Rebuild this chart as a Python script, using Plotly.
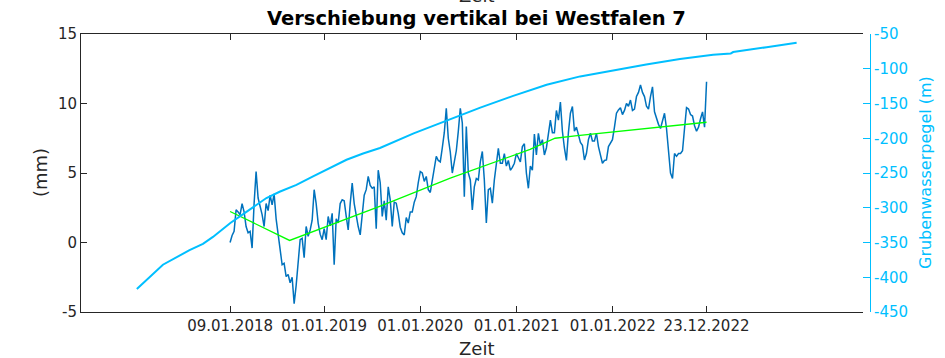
import pandas as pd
import plotly.graph_objects as go

# Vertical displacement at Westfalen 7 (mm), evenly spaced readings
START_DATE = "2018-01-09"
END_DATE = "2022-12-23"
displacement_mm = [
    0.0, 0.5, 0.8, 2.35, 2.2, 2.0, 2.8, 2.2, 1.15, 0.7,
    0.8, -0.4, 2.8, 5.1, 3.2, 2.6, 2.0, 1.15, 2.8, 2.3,
    3.4, 2.7, 3.5, 1.7, 0.6, -0.5, -1.6, -1.5, -2.45, -2.3,
    -2.9, -2.5, -4.4, -3.1, -1.6, 0.2, 0.3, -1.1, 1.15, 0.45,
    0.9, 1.6, 3.8, 2.8, 1.4, 0.6, 0.2, 1.0, 0.2, 1.87,
    1.2, 2.1, -1.6, 1.7, 1.4, 2.8, 3.07, 3.0, 1.9, 0.9,
    2.8, 4.27, 2.8, 1.9, 1.15, 0.55, 2.2, 3.4, 3.8, 4.75,
    4.1, 3.9, 4.0, 1.0, 5.2, 4.3, 1.87, 3.0, 1.6, 4.0,
    3.07, 1.15, 2.9, 2.83, 2.1, 1.1, 0.7, 0.55, 1.8, 1.4,
    2.2, 2.2, 2.9, 3.3, 4.3, 5.1, 5.0, 4.4, 4.75, 3.8,
    3.6, 4.4, 5.1, 6.2, 5.9, 5.8, 6.8, 7.9, 9.65, 7.5,
    6.5, 5.0, 5.8, 6.6, 8.0, 9.65, 8.6, 3.3, 8.35, 5.0,
    4.5, 2.35, 4.0, 4.6, 4.5, 5.8, 6.55, 4.5, 1.4, 3.8,
    3.9, 2.83, 4.5, 5.9, 6.78, 5.7, 5.7, 6.4, 5.5, 5.9,
    5.2, 5.4, 5.7, 6.4, 6.1, 5.8, 6.9, 7.1, 5.0, 3.9,
    5.5, 5.2, 7.8, 6.3, 7.86, 7.0, 7.4, 6.3, 6.8, 7.9,
    8.8, 7.9, 7.9, 9.5, 8.8, 10.1, 8.0, 6.8, 5.9, 7.9,
    9.3, 9.78, 8.0, 8.3, 7.8, 7.2, 7.0, 5.94, 6.4, 7.4,
    7.86, 7.3, 7.3, 7.86, 6.9, 6.2, 5.7, 5.9, 5.94, 6.9,
    7.2, 7.4, 8.3, 9.3, 9.54, 9.7, 9.2, 9.5, 10.0, 9.8,
    10.25, 9.5, 9.6, 10.5, 10.8, 11.33, 10.8, 10.5, 9.8, 9.6,
    10.5, 11.2, 9.4, 8.9, 8.5, 8.2, 8.7, 9.3, 8.2, 6.6,
    5.0, 4.6, 6.4, 6.2, 6.4, 6.4, 6.6, 8.2, 9.7, 9.6,
    9.2, 9.1, 8.4, 8.0, 8.3, 8.9, 9.4, 8.3, 11.57,
]

# Smoothed trend of the displacement (mm)
trend_dates = [
    "2018-01-09", "2018-08-23", "2019-07-31", "2020-04-24", "2021-02-21",
    "2021-04-18", "2021-05-27", "2021-08-11", "2021-10-14", "2021-12-03",
    "2022-07-10", "2022-12-23",
]
trend_mm = [2.23, 0.15, 2.6, 4.63, 6.7, 7.14, 7.5, 7.67, 7.8, 7.9, 8.35, 8.65]

# Mine water level (m)
pegel_dates = [
    "2017-01-20", "2017-04-29", "2017-08-08", "2017-09-28", "2017-11-05",
    "2018-01-10", "2018-03-12", "2018-05-27", "2018-07-16", "2018-09-18",
    "2018-11-20", "2019-01-23", "2019-03-27", "2019-05-29", "2019-08-01",
    "2019-12-07", "2020-04-11", "2020-08-16", "2020-12-19", "2021-04-25",
    "2021-08-30", "2022-01-02", "2022-05-08", "2022-09-13", "2023-01-17",
    "2023-03-25", "2023-04-03", "2023-08-08", "2023-11-30",
]
pegel_m = [
    -417, -382, -361, -352, -342,
    -322, -306, -286, -277, -267,
    -255, -243, -231, -222, -214,
    -193, -174, -156, -139, -123,
    -111, -102, -94, -86, -80,
    -78, -76, -69, -62.5,
]

# Axis ticks
x_tick_dates = ["2018-01-09", "2019-01-01", "2020-01-01", "2021-01-01", "2022-01-01", "2022-12-23"]
x_tick_labels = ["09.01.2018", "01.01.2019", "01.01.2020", "01.01.2021", "01.01.2022", "23.12.2022"]
y_ticks = [-5, 0, 5, 10, 15]
y2_ticks = [-450, -400, -350, -300, -250, -200, -150, -100, -50]

AX = "#262626"
CYAN = "#00BFFF"

dates = pd.date_range(START_DATE, END_DATE, periods=len(displacement_mm))

fig = go.Figure()
fig.add_trace(go.Scatter(x=dates, y=displacement_mm, mode="lines",
                         line=dict(color="#0072BD", width=1.5)))
fig.add_trace(go.Scatter(x=trend_dates, y=trend_mm, mode="lines",
                         line=dict(color="#00FF00", width=1.3)))
fig.add_trace(go.Scatter(x=pegel_dates, y=pegel_m, mode="lines", yaxis="y2",
                         line=dict(color=CYAN, width=2)))

W, H = 945, 358
L, R, T, B = 81, 75, 34, 46
plot_w = W - L - R
plot_h = H - T - B

def px(x):
    return (x - L) / plot_w

def py(y):
    return (H - B - y) / plot_h

fig.update_layout(
    width=W, height=H,
    margin=dict(l=L, r=R, t=T, b=B, pad=0),
    plot_bgcolor="white", paper_bgcolor="white",
    showlegend=False,
    font=dict(family="DejaVu Sans", size=15, color=AX),
    xaxis=dict(
        domain=[0, (863 - L) / plot_w],
        range=["2016-06-22", "2024-08-08"],
        tickvals=x_tick_dates, ticktext=x_tick_labels,
        ticks="inside", ticklen=6, tickcolor=AX, tickwidth=1,
        showline=True, linecolor=AX, linewidth=1, mirror="ticks",
        showgrid=False, zeroline=False,
        tickfont=dict(size=15, color=AX),
    ),
    yaxis=dict(
        range=[-5, 15],
        tickvals=y_ticks, ticktext=[str(v) for v in y_ticks],
        ticks="inside", ticklen=6, tickcolor=AX, tickwidth=1,
        showline=True, linecolor=AX, linewidth=1,
        showgrid=False, zeroline=False,
        tickfont=dict(size=15, color=AX),
    ),
    yaxis2=dict(
        overlaying="y", side="right", anchor="free", position=1,
        range=[-450, -50],
        tickvals=y2_ticks, ticktext=[str(v) for v in y2_ticks],
        ticks="inside", ticklen=7, tickcolor=CYAN, tickwidth=1,
        showline=True, linecolor=CYAN, linewidth=1,
        showgrid=False, zeroline=False,
        tickfont=dict(size=15, color=CYAN),
    ),
    annotations=[
        dict(text="<b>Verschiebung vertikal bei Westfalen 7</b>", x=px(477), y=py(19),
             xref="paper", yref="paper", showarrow=False, xanchor="center", yanchor="middle",
             font=dict(size=19.5, color="black")),
        dict(text="Zeit", x=px(477), y=py(-4), xref="paper", yref="paper", showarrow=False,
             xanchor="center", yanchor="middle", font=dict(size=18, color=AX)),
        dict(text="Zeit", x=px(477), y=py(348), xref="paper", yref="paper", showarrow=False,
             xanchor="center", yanchor="middle", font=dict(size=18, color=AX)),
        dict(text="(mm)", x=px(40), y=py(173), xref="paper", yref="paper", showarrow=False,
             xanchor="center", yanchor="middle", textangle=-90, font=dict(size=18, color=AX)),
        dict(text="Grubenwasserpegel (m)", x=px(925), y=py(173), xref="paper", yref="paper",
             showarrow=False, xanchor="center", yanchor="middle", textangle=-90,
             font=dict(size=16, color=CYAN)),
    ],
)

fig.write_html("out.html")
